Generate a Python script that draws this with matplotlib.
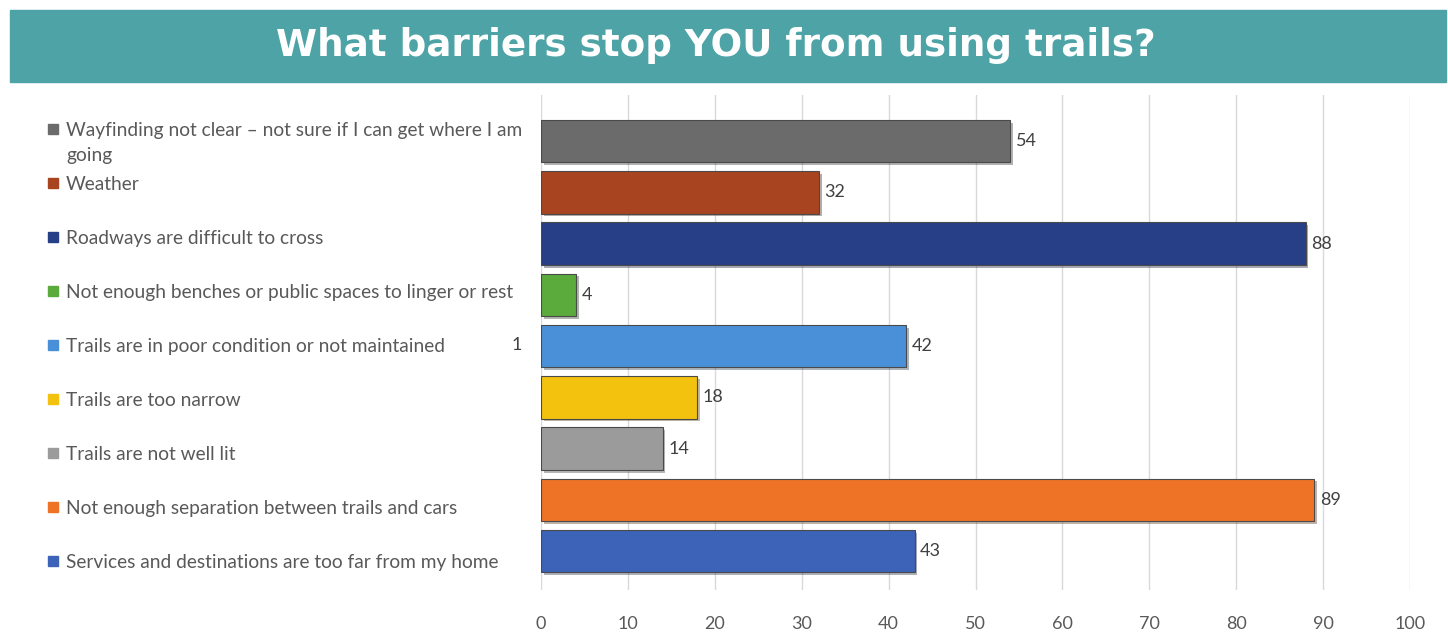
import matplotlib.pyplot as plt
from matplotlib.patches import Rectangle
import matplotlib.patheffects as pe

# Survey answers, top to bottom as shown
barriers = [
    'Wayfinding not clear \u2013 not sure if I can get where I am\ngoing',
    'Weather',
    'Roadways are difficult to cross',
    'Not enough benches or public spaces to linger or rest',
    'Trails are in poor condition or not maintained',
    'Trails are too narrow',
    'Trails are not well lit',
    'Not enough separation between trails and cars',
    'Services and destinations are too far from my home',
]
responses = [54, 32, 88, 4, 42, 18, 14, 89, 43]
bar_colors = ['#6b6b6b', '#a8441f', '#263f86', '#5aaa3c', '#4a90d8',
              '#f3c20f', '#9b9b9b', '#ef7326', '#3d63b8']
x_ticks = list(range(0, 101, 10))

W, H = 1448, 632
fig = plt.figure(figsize=(W / 100, H / 100), dpi=100)
plt.rcParams['font.family'] = ['Lato', 'DejaVu Sans']

# title banner
fig.patches.append(Rectangle((10 / W, 1 - 82 / H), 1436 / W, 72 / H,
                             transform=fig.transFigure, color='#4da3a6', zorder=0))
fig.text(716 / W, 1 - 46 / H, 'What barriers stop YOU from using trails?',
         ha='center', va='center', color='white', fontsize=26.8, fontweight='bold',
         family='DejaVu Sans')

ax = fig.add_axes([541 / W, 1 - 590 / H, 869 / W, 495 / H])
ypos = list(range(len(barriers)))
bars = ax.barh(ypos, responses, height=0.83, color=bar_colors,
               edgecolor='#4a4a4a', linewidth=0.8, zorder=3)
for b in bars:
    b.set_path_effects([pe.SimplePatchShadow(offset=(2, -2), alpha=0.35), pe.Normal()])

for y, v in zip(ypos, responses):
    ax.annotate(str(v), (v, y), xytext=(4, 0), textcoords='offset points',
                va='center', ha='left', fontsize=13, color='#404040')

ax.set_xlim(0, 100)
ax.set_ylim(8.76, -0.9)
ax.set_xticks(x_ticks)
ax.set_yticks([])
ax.tick_params(axis='x', length=0, pad=19, labelsize=13, labelcolor='#595959')
ax.grid(axis='x', color='#d9d9d9', linewidth=1, zorder=0)
for s in ax.spines.values():
    s.set_visible(False)

# legend-style category labels on the left
for i, (lab, c) in enumerate(zip(barriers, bar_colors)):
    ypx = 129 + 54 * i
    fig.patches.append(Rectangle((48 / W, 1 - (ypx + 5) / H), 10 / W, 10 / H,
                                 transform=fig.transFigure, color=c))
    fig.text(66 / W, 1 - (ypx - 7) / H, lab, ha='left', va='top',
             fontsize=13.8, color='#595959', linespacing=1.6)
fig.text(517 / W, 1 - 345 / H, '1', ha='center', va='center',
         fontsize=13, color='#404040')

fig.savefig('out.png', dpi=100)
